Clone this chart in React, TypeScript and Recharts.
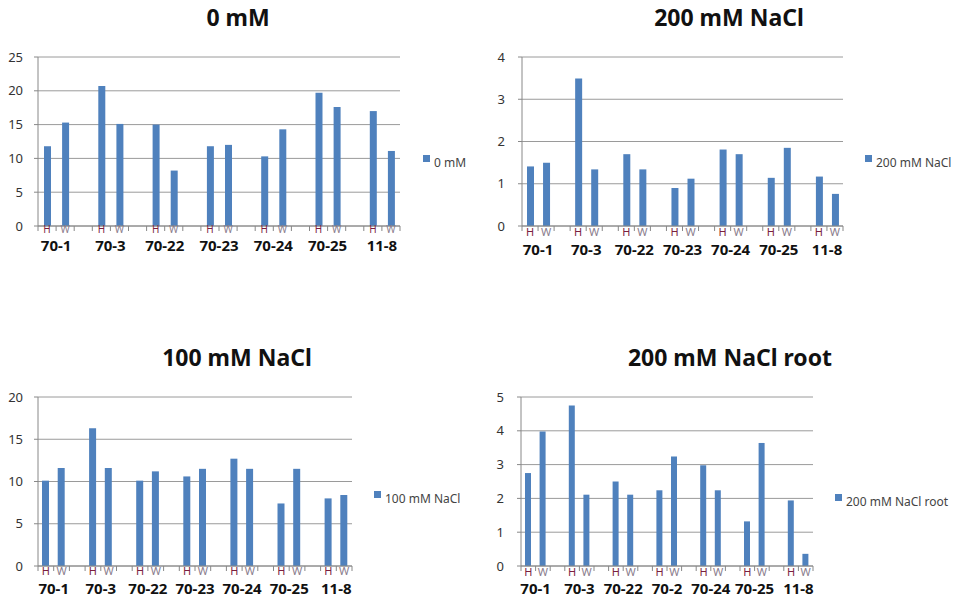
import React from 'react';
import { BarChart, Bar, XAxis, YAxis, CartesianGrid } from 'recharts';

// category groups (the root chart reads "70-2" in the original)
const groups = ['70-1', '70-3', '70-22', '70-23', '70-24', '70-25', '11-8'];
const rootGroups = ['70-1', '70-3', '70-22', '70-2', '70-24', '70-25', '11-8'];
const subLabels = ['H', 'W'];

// values in H, W order per group
const values0mM = [11.8, 15.3, 20.7, 15.1, 15.0, 8.2, 11.8, 12.0, 10.3, 14.3, 19.7, 17.6, 17.0, 11.1];
const values200mM = [1.41, 1.5, 3.49, 1.34, 1.7, 1.34, 0.9, 1.12, 1.81, 1.7, 1.14, 1.85, 1.17, 0.76];
const values100mM = [10.1, 11.6, 16.3, 11.6, 10.1, 11.2, 10.6, 11.5, 12.7, 11.5, 7.4, 11.5, 8.0, 8.4];
const values200mMRoot = [2.75, 3.98, 4.75, 2.11, 2.5, 2.11, 2.24, 3.24, 2.98, 2.24, 1.32, 3.64, 1.94, 0.36];

const ticks0mM = [0, 5, 10, 15, 20, 25];
const ticks200mM = [0, 1, 2, 3, 4];
const ticks100mM = [0, 5, 10, 15, 20];
const ticks200mMRoot = [0, 1, 2, 3, 4, 5];

const BAR_COLOR = '#4f81bd';
const FONT = '"Noto Sans", "Liberation Sans", sans-serif';

interface Row {
  key: string;
  group: string;
  sub: string;
  value: number | null;
}

const buildRows = (groupNames: string[], values: number[]): Row[] => {
  const rows: Row[] = [];
  groupNames.forEach((g, gi) => {
    subLabels.forEach((s, si) => {
      rows.push({ key: `${g}-${s}`, group: g, sub: s, value: values[gi * 2 + si] });
    });
    if (gi < groupNames.length - 1) {
      rows.push({ key: `gap-${gi}`, group: '', sub: '', value: null });
    }
  });
  return rows;
};

interface PanelProps {
  left: number;
  top: number;
  width: number;
  height: number;
  plot: { left: number; right: number; top: number; bottom: number };
  rows: Row[];
  yTicks: number[];
  yMargin: number;
  subSize: number;
  subDy: number;
  groupDy: number;
  barSize: number;
}

const Panel: React.FC<PanelProps> = ({ left, top, width, height, plot, rows, yTicks, yMargin, subSize, subDy, groupDy, barSize }) => {
  const yAxisWidth = 30;
  const xAxisHeight = 30;
  const slot = (plot.right - plot.left) / rows.length;

  const renderTick = (props: any) => {
    const { x, y, payload } = props;
    const index = props.index ?? payload.index;
    const row = rows[index];
    if (!row) return <g />;
    const isLast = index === rows.length - 1;
    return (
      <g>
        <line x1={x - slot / 2} x2={x - slot / 2} y1={y} y2={y + 5} stroke="#888" />
        {isLast && <line x1={x + slot / 2} x2={x + slot / 2} y1={y} y2={y + 5} stroke="#888" />}
        {row.sub && (
          <text x={x} y={y + subDy} textAnchor="middle" fontSize={subSize} fill={row.sub === 'H' ? '#7b1f3f' : '#8a7c8c'}>
            {row.sub}
          </text>
        )}
        {row.sub === 'W' && (
          <text x={x - slot / 2} y={y + groupDy} textAnchor="middle" fontSize={15} fontWeight="bold" fill="#111">
            {row.group}
          </text>
        )}
      </g>
    );
  };

  return (
    <div style={{ position: 'absolute', left, top, width, height }}>
      <BarChart
        width={width}
        height={height}
        data={rows}
        barSize={barSize}
        margin={{
          top: plot.top - top,
          left: plot.left - left - yAxisWidth,
          right: left + width - plot.right,
          bottom: top + height - plot.bottom - xAxisHeight,
        }}
      >
        <CartesianGrid vertical={false} stroke="#9a9a9a" />
        <XAxis
          dataKey="key"
          interval={0}
          height={xAxisHeight}
          tickLine={false}
          tickSize={0}
          tickMargin={0}
          stroke="#888"
          tick={renderTick}
        />
        <YAxis
          width={yAxisWidth}
          domain={[yTicks[0], yTicks[yTicks.length - 1]]}
          ticks={yTicks}
          interval={0}
          tickSize={4}
          tickMargin={yMargin}
          stroke="#888"
          tick={{ fill: '#333', fontSize: 13 }}
        />
        <Bar dataKey="value" fill={BAR_COLOR} isAnimationActive={false} />
      </BarChart>
    </div>
  );
};

const titles = [
  { text: '0 mM', x: 238, y: 26 },
  { text: '200 mM NaCl', x: 729, y: 26 },
  { text: '100 mM NaCl', x: 237, y: 366 },
  { text: '200 mM NaCl root', x: 730, y: 366 },
];

const legends = [
  { text: '0 mM', x: 423, y: 163 },
  { text: '200 mM NaCl', x: 865, y: 163 },
  { text: '100 mM NaCl', x: 374, y: 499 },
  { text: '200 mM NaCl root', x: 835, y: 502 },
];

const App: React.FC = () => {
  return (
    <div style={{ position: 'absolute', left: 0, top: 0, width: 966, height: 602, background: '#fff', fontFamily: FONT }}>
      <Panel
        left={0} top={40} width={483} height={240}
        plot={{ left: 38, right: 400, top: 57, bottom: 226 }}
        rows={buildRows(groups, values0mM)}
        yTicks={ticks0mM} yMargin={11}
        subSize={10} subDy={7} groupDy={25} barSize={7}
      />
      <Panel
        left={483} top={40} width={483} height={240}
        plot={{ left: 522, right: 843, top: 57, bottom: 226 }}
        rows={buildRows(groups, values200mM)}
        yTicks={ticks200mM} yMargin={13}
        subSize={11} subDy={10} groupDy={29} barSize={7}
      />
      <Panel
        left={0} top={380} width={483} height={222}
        plot={{ left: 38, right: 352, top: 397, bottom: 566 }}
        rows={buildRows(groups, values100mM)}
        yTicks={ticks100mM} yMargin={11}
        subSize={11} subDy={9} groupDy={28} barSize={7}
      />
      <Panel
        left={483} top={380} width={483} height={222}
        plot={{ left: 521, right: 813, top: 397, bottom: 566 }}
        rows={buildRows(rootGroups, values200mMRoot)}
        yTicks={ticks200mMRoot} yMargin={13}
        subSize={11} subDy={10} groupDy={28} barSize={6}
      />
      <svg width={966} height={602} style={{ position: 'absolute', left: 0, top: 0, pointerEvents: 'none' }}>
        {titles.map((t) => (
          <text key={t.text} x={t.x} y={t.y} textAnchor="middle" fontSize={23} fontWeight="bold" fill="#111" fontFamily={FONT}>
            {t.text}
          </text>
        ))}
        {legends.map((l) => (
          <g key={l.text}>
            <rect x={l.x} y={l.y - 8} width={7} height={7} fill={BAR_COLOR} />
            <text x={l.x + 11} y={l.y + 4} fontSize={12} fill="#444" fontFamily={FONT}>
              {l.text}
            </text>
          </g>
        ))}
      </svg>
    </div>
  );
};

export default App;
